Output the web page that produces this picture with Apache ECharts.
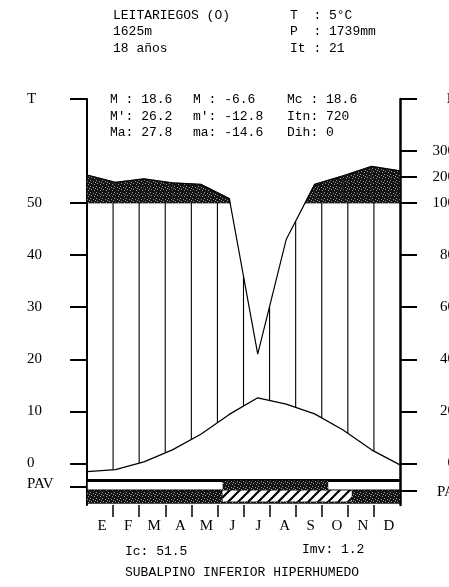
<!DOCTYPE html>
<html>
<head>
<meta charset="utf-8">
<script src="https://cdn.jsdelivr.net/npm/echarts@6/dist/echarts.min.js"></script>
<style>
html,body{margin:0;padding:0;background:#fff;overflow:hidden;}
#chart{width:449px;height:587px;}
</style>
</head>
<body>
<div id="chart"></div>
<script>
// ---------- data ----------
const months = ['E','F','M','A','M','J','J','A','S','O','N','D'];
// monthly mean temperature (°C), Jan..Dec
const tempC = [-1.6, -1.2, 0.3, 2.6, 5.6, 9.4, 12.6, 11.4, 9.5, 6.4, 2.6, -0.3];
// monthly precipitation (mm), Jan..Dec
const precipMm = [208, 180, 193, 178, 172, 118, 42, 86, 172, 205, 241, 224];
// left axis tick values (°C) and right axis tick values (mm)
const tempTicks = [0, 10, 20, 30, 40, 50];
const precipTicks = [0, 20, 40, 60, 80, 100, 200, 300];
// PAV strips (month ranges)
const pavUpperDark = [5.2, 9.25];
const pavLowerHatched = [5.2, 10.15];
// texts
const headerLeft = ['LEITARIEGOS (O)', '1625m', '18 años'];
const headerRight = ['T  : 5°C', 'P  : 1739mm', 'It : 21'];
const statsCol1 = ['M : 18.6', "M': 26.2", 'Ma: 27.8'];
const statsCol2 = ['M : -6.6', "m': -12.8", 'ma: -14.6'];
const statsCol3 = ['Mc : 18.6', 'Itn: 720', 'Dih: 0'];
const footer1 = ['Ic: 51.5', 'Imv: 1.2'];
const footer2 = 'SUBALPINO INFERIOR HIPERHUMEDO';

// ---------- scale helpers (Walter-Lieth: 10°C = 20 mm, above 100 mm compressed 1:10) ----------
function mmToAxis(p){ return p <= 100 ? p / 2 : 50 + (p - 100) / 20; }
function axisToMm(v){ return v <= 50 ? v * 2 : 100 + (v - 50) * 20; }
const CAP = mmToAxis(100);

// ---------- patterns ----------
function makeDark(){
  const c = document.createElement('canvas'); c.width = 6; c.height = 6;
  const g = c.getContext('2d');
  g.fillStyle = '#141414'; g.fillRect(0,0,6,6);
  g.fillStyle = '#9a9a9a';
  [[0,0],[3,1],[1,3],[4,4],[5,2]].forEach(function(p){ g.fillRect(p[0],p[1],1,1); });
  return c;
}
function makeHatch(){
  const c = document.createElement('canvas'); c.width = 10; c.height = 10;
  const g = c.getContext('2d');
  g.fillStyle = '#fff'; g.fillRect(0,0,10,10);
  g.strokeStyle = '#000'; g.lineWidth = 2.2; g.beginPath();
  g.moveTo(-2,12); g.lineTo(12,-2);
  g.moveTo(-2,2); g.lineTo(2,-2);
  g.moveTo(8,12); g.lineTo(12,8);
  g.stroke();
  return c;
}
const darkFill = {image: makeDark(), repeat: 'repeat'};
const hatchFill = {image: makeHatch(), repeat: 'repeat'};

// ---------- series data ----------
const tempLine = tempC.map(function(t,i){ return [i, t]; });
const precipLine = precipMm.map(function(p,i){ return [i, mmToAxis(p)]; });
const segments = [];
for (let i = 0; i < tempC.length - 1; i++) {
  segments.push([i, tempC[i], tempC[i+1], mmToAxis(precipMm[i]), mmToAxis(precipMm[i+1])]);
}
const nSeg = tempC.length - 1;      // data axis span (0..11)
const nMonths = months.length;      // slot axis span (0..12)

function renderHumid(params, api){
  const i = api.value(0), t0 = api.value(1), t1 = api.value(2), p0 = api.value(3), p1 = api.value(4);
  const children = [];
  let poly = null;
  if (p0 >= CAP && p1 >= CAP) poly = [[i,CAP],[i,p0],[i+1,p1],[i+1,CAP]];
  else if (p0 >= CAP) { const xc = i + (p0-CAP)/(p0-p1); poly = [[i,CAP],[i,p0],[xc,CAP]]; }
  else if (p1 >= CAP) { const xc = i + (CAP-p0)/(p1-p0); poly = [[xc,CAP],[i+1,p1],[i+1,CAP]]; }
  if (poly) {
    children.push({type:'polygon', shape:{points: poly.map(function(p){ return api.coord(p); })},
      style:{fill: darkFill, stroke:'#1a1a1a', lineWidth:0.6}});
  }
  for (let k = 1; k < nMonths; k++) {
    const xs = k * nSeg / nMonths;
    if (xs >= i && xs < i + 1) {
      const f = xs - i;
      const t = t0 + f * (t1 - t0);
      const p = p0 + f * (p1 - p0);
      const top = Math.min(p, CAP);
      if (top > t) {
        const a = api.coord([xs, t]), b = api.coord([xs, top]);
        children.push({type:'line', shape:{x1:a[0], y1:a[1], x2:b[0], y2:b[1]},
          style:{stroke:'#000', lineWidth:1.1}});
      }
    }
  }
  return {type:'group', children: children};
}

// PAV strips
const pavItems = [[0, nMonths, 0], [pavUpperDark[0], pavUpperDark[1], 1], [0, nMonths, 2], [pavLowerHatched[0], pavLowerHatched[1], 3]];
function renderPav(params, api){
  const x0 = api.value(0), x1 = api.value(1), kind = api.value(2);
  function rect(yTop, yBot){
    const a = api.coord([x0, yTop]), b = api.coord([x1, yBot]);
    return {x:a[0], y:a[1], width:b[0]-a[0], height:b[1]-a[1]};
  }
  if (kind === 0) {
    const r = rect(-3.3, -5.15);
    return {type:'group', children:[
      {type:'rect', shape:r, style:{fill:'#fff', stroke:'#000', lineWidth:1.5}},
      {type:'line', shape:{x1:r.x, y1:r.y, x2:r.x+r.width, y2:r.y}, style:{stroke:'#000', lineWidth:3}}
    ]};
  }
  if (kind === 1) return {type:'rect', shape:rect(-3.3, -5.15), style:{fill:darkFill}};
  if (kind === 2) return {type:'rect', shape:rect(-5.2, -7.75), style:{fill:darkFill}};
  return {type:'rect', shape:rect(-5.2, -7.35), style:{fill:hatchFill}};
}

// ---------- text graphics ----------
const MONO = '13px "Liberation Mono", "DejaVu Sans Mono", monospace';
const SERIF = '"Liberation Serif", "DejaVu Serif", serif';
function txt(x, y, s){ return {type:'text', x:x, y:y, style:{text:s, font:MONO, fill:'#000', verticalAlign:'middle'}}; }
const graphics = [];
const headerY = [16, 32, 49];
headerLeft.forEach(function(s,i){ graphics.push(txt(113, headerY[i], s)); });
headerRight.forEach(function(s,i){ graphics.push(txt(290, headerY[i], s)); });
const statsY = [100, 117, 133];
statsCol1.forEach(function(s,i){ graphics.push(txt(110, statsY[i], s)); });
statsCol2.forEach(function(s,i){ graphics.push(txt(193, statsY[i], s)); });
statsCol3.forEach(function(s,i){ graphics.push(txt(287, statsY[i], s)); });
graphics.push(txt(125, 552, footer1[0]));
graphics.push(txt(302, 550, footer1[1]));
graphics.push(txt(125, 573, footer2));
graphics.push({type:'text', x:437, y:492, style:{text:'PAV', font:'15px ' + SERIF, fill:'#000', verticalAlign:'middle'}});

// ---------- chart ----------
const chart = echarts.init(document.getElementById('chart'), null, {renderer:'canvas'});
const leftLabelVals = [70].concat(tempTicks.slice().reverse()).concat([-3.9]);
const leftTickVals = [70].concat(tempTicks).concat([-4.5]);
const rightVals = precipTicks.map(mmToAxis).concat([70]);
chart.setOption({
  animation: false,
  backgroundColor: '#fff',
  grid: {left: 87, right: 49, top: 99, bottom: 82, containLabel:false, outerBoundsMode:'none'},
  xAxis: [
    {type:'value', min:0, max:nMonths, position:'bottom',
      axisLine:{show:false, onZero:false}, splitLine:{show:false},
      axisTick:{show:true, customValues:[1,2,3,4,5,6,7,8,9,10,11], length:12, lineStyle:{color:'#000', width:1.5}},
      axisLabel:{customValues: months.map(function(m,i){ return i + 0.5; }),
        formatter:function(v){ return months[Math.floor(v)]; },
        fontFamily: SERIF, fontSize:15, color:'#000', margin:14, padding:[0,0,0,4]}},
    {type:'value', min:0, max:nSeg, show:false, axisLine:{onZero:false}}
  ],
  yAxis: [
    {type:'value', min:-8, max:70, position:'left',
      axisLine:{show:true, onZero:false, lineStyle:{color:'#000', width:2}}, splitLine:{show:false},
      axisTick:{show:true, customValues:leftTickVals, length:17, lineStyle:{color:'#000', width:2}},
      axisLabel:{customValues:leftLabelVals, showMaxLabel:true, showMinLabel:true,
        formatter:function(v){ return v >= 69.9 ? 'T' : (v < 0 ? 'PAV' : String(v)); },
        align:'left', margin:60, fontFamily:SERIF, fontSize:15, color:'#000'}},
    {type:'value', min:-8, max:70, position:'right',
      axisLine:{show:true, onZero:false, lineStyle:{color:'#000', width:2.5}}, splitLine:{show:false},
      axisTick:{show:true, customValues:rightVals.concat([-5.2]), length:17, lineStyle:{color:'#000', width:2}},
      axisLabel:{customValues:rightVals, showMaxLabel:true, showMinLabel:true,
        formatter:function(v){ return v >= 69.9 ? 'P' : String(Math.round(axisToMm(v))); },
        align:'right', margin:55, fontFamily:SERIF, fontSize:15, color:'#000'}}
  ],
  graphic: graphics,
  series: [
    {type:'custom', name:'PAV', xAxisIndex:0, yAxisIndex:0, data:pavItems, renderItem:renderPav, silent:true, clip:false},
    {type:'custom', name:'humid', xAxisIndex:1, yAxisIndex:0, data:segments, renderItem:renderHumid, silent:true},
    {type:'line', name:'P', xAxisIndex:1, yAxisIndex:0, data:precipLine, symbol:'none',
      lineStyle:{color:'#000', width:1.2}},
    {type:'line', name:'T', xAxisIndex:1, yAxisIndex:0, data:tempLine, symbol:'none',
      lineStyle:{color:'#000', width:1.3}}
  ]
});
</script>
</body>
</html>
